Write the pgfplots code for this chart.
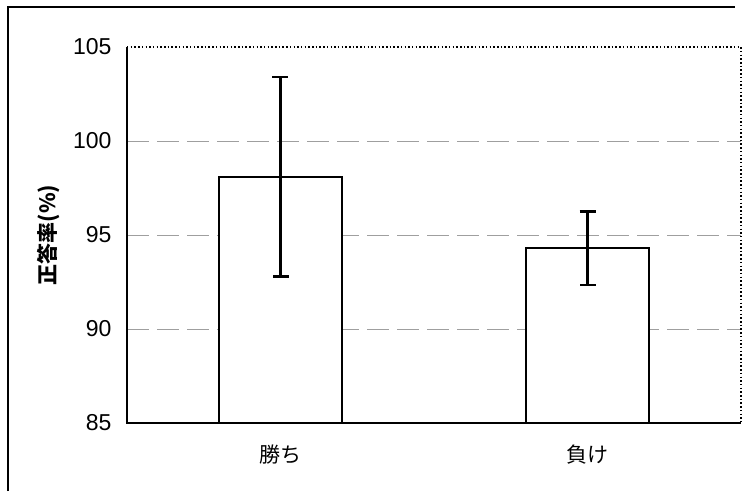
\documentclass[border=0pt]{standalone}
\usepackage{pgfplots}
\pgfplotsset{compat=1.18}
\usepackage{fontspec}
\setmainfont{Liberation Sans}
\newfontfamily\jp{Noto Sans CJK JP}
\begin{document}
\begin{tikzpicture}
\path[use as bounding box] (0pt,0pt) rectangle (753pt,-492pt);
\draw[line width=1.2pt] (8pt,-491pt) -- (8pt,-7pt) -- (735pt,-7pt);
\begin{axis}[
  at={(127pt,-423pt)}, anchor=south west,
  scale only axis, width=614pt, height=376pt,
  xmin=-0.5, xmax=1.5, ymin=85, ymax=105,
  xtick={0,1}, xticklabels={{\jp 勝ち},{\jp 負け}},
  ytick={85,90,...,105},
  extra y ticks={90,95,100}, extra y tick labels={},
  extra y tick style={grid=major},
  grid style={gray!75, line width=1pt, dash pattern=on 22pt off 8pt},
  major tick length=0pt,
  axis line style={draw=none},
  tick label style={font=\fontsize{23}{26}\selectfont},
  yticklabel style={xshift=-12pt},
  xticklabel style={font=\fontsize{21}{24}\selectfont\jp, yshift=-18pt},
  ylabel={\jp 正答率(\%)},
  ylabel style={font=\fontsize{21}{24}\selectfont\bfseries, yshift=6pt},
  /pgf/number format/assume math mode=true,
  clip=false,
]
\draw[line width=1.5pt, dash pattern=on 1.5pt off 2.2pt] (rel axis cs:0,1) -- (rel axis cs:1,1) -- (rel axis cs:1,0);
\draw[line width=1.3pt] (rel axis cs:0,1) -- (rel axis cs:0,0) -- (rel axis cs:1,0);
\addplot[ybar, bar width=0.4, fill=white, draw=black, line width=1.6pt,
  error bars/.cd, y dir=both, y explicit,
  error bar style={line width=2.6pt},
  error mark options={rotate=90, mark size=8pt, line width=2.4pt}]
  coordinates {(0,98.1) +- (0,5.3) (1,94.3) +- (0,1.95)};
\end{axis}
\end{tikzpicture}
\end{document}
